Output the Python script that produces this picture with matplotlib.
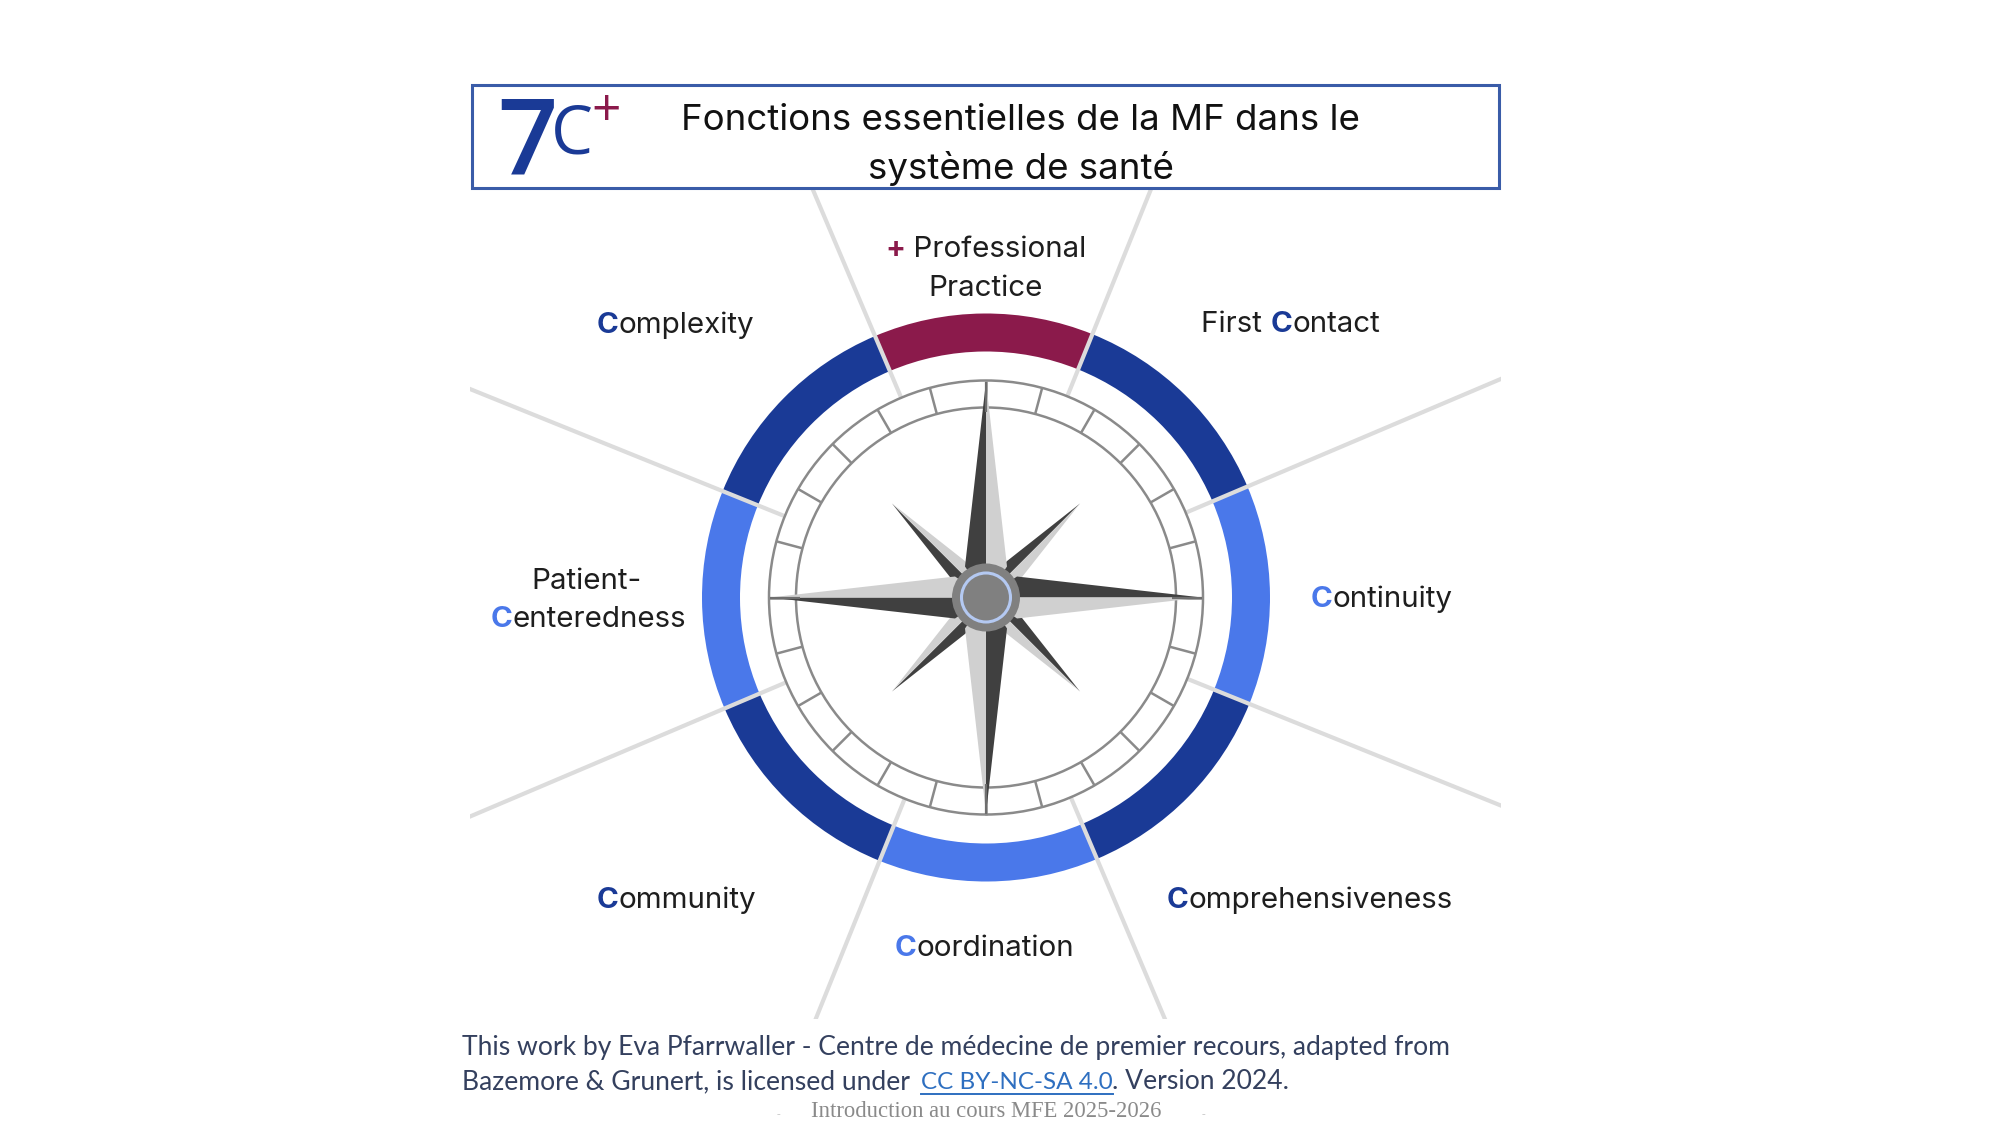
import numpy as np
import matplotlib
matplotlib.use("Agg")
import matplotlib.pyplot as plt
from matplotlib.patches import Wedge, Circle, Rectangle, Polygon

# ring segments, anticlockwise from the right-hand spoke, one colour per gap between spokes
spoke_angles = [23, 68, 113, 158, 203, 248, 293, 338]
segment_colors = ["#1A3A96", "#8B1A4B", "#1A3A96", "#4A78EA", "#1A3A96", "#4A78EA", "#1A3A96", "#4A78EA"]
tick_step = 15
star_main = [90, 0, -90, 180]
star_minor = [45, -45, -135, 135]

title_lines = ["Fonctions essentielles de la MF dans le", "système de santé"]
footer_1 = "This work by Eva Pfarrwaller - Centre de médecine de premier recours, adapted from"
footer_2a = "Bazemore & Grunert, is licensed under "
footer_2b = "CC BY-NC-SA 4.0"
footer_2c = ". Version 2024."
slide_footer = "Introduction au cours MFE 2025-2026"

DARK = "#1A3A96"
LIGHT = "#4A78EA"
RED = "#8B1A4B"
INK = "#1E1E1E"
LABEL_FONT = "Inter"

# label: list of (string, colour, bold), x, baseline y, anchor
labels = [
    ([("+", RED, True), (" Professional", INK, False)], 986, 257, "center"),
    ([("Practice", INK, False)], 986, 296, "center"),
    ([("C", DARK, True), ("omplexity", INK, False)], 597, 333, "left"),
    ([("First ", INK, False), ("C", DARK, True), ("ontact", INK, False)], 1201, 332, "left"),
    ([("C", LIGHT, True), ("ontinuity", INK, False)], 1311, 607, "left"),
    ([("C", DARK, True), ("omprehensiveness", INK, False)], 1167, 908, "left"),
    ([("C", LIGHT, True), ("oordination", INK, False)], 895, 956, "left"),
    ([("C", DARK, True), ("ommunity", INK, False)], 597, 908, "left"),
    ([("Patient-", INK, False)], 587, 589, "center"),
    ([("C", LIGHT, True), ("enteredness", INK, False)], 491, 627, "left"),
]

cx, cy = 986, 597.5

fig = plt.figure(figsize=(20, 11.25), dpi=100)
ax = fig.add_axes([0, 0, 1, 1])
ax.set_xlim(0, 2000)
ax.set_ylim(1125, 0)
ax.axis("off")
renderer = fig.canvas.get_renderer()


def pol(angle, r):
    a = np.radians(angle)
    return cx + r * np.cos(a), cy - r * np.sin(a)


def chain_text(parts, x, y, anchor, size):
    # several colours on one line, so measure each piece and place them in turn
    items = []
    total = 0
    for s, col, bold in parts:
        t = ax.text(x, y, s, color=col, fontsize=size, family=LABEL_FONT, va="baseline", ha="left",
                    fontweight="bold" if bold else "normal")
        w = t.get_window_extent(renderer).width
        items.append((t, w))
        total += w
    pos = x - total / 2 if anchor == "center" else x
    for t, w in items:
        t.set_x(pos)
        pos += w


# coloured ring
for i, col in enumerate(segment_colors):
    a0 = spoke_angles[i]
    a1 = spoke_angles[(i + 1) % len(spoke_angles)]
    if a1 < a0:
        a1 += 360
    ax.add_patch(Wedge((cx, cy), 284, -a1, -a0, width=38, fc=col, ec="none"))

# grey spokes, clipped to the drawing frame
clip = Rectangle((470, 187), 1031, 832, transform=ax.transData)
for ang in spoke_angles:
    x0, y0 = pol(ang, 217)
    x1, y1 = pol(ang, 700)
    ln, = ax.plot([x0, x1], [y0, y1], color="#DCDCDC", lw=3.0, solid_capstyle="butt", zorder=2)
    ln.set_clip_path(clip)

# dial
ring_col = "#8A8A8A"
ax.add_patch(Circle((cx, cy), 217, fc="white", ec=ring_col, lw=1.8, zorder=3))
ax.add_patch(Circle((cx, cy), 190, fc="white", ec=ring_col, lw=1.8, zorder=3))
for ang in np.arange(0, 360, tick_step):
    x0, y0 = pol(ang, 190)
    x1, y1 = pol(ang, 217)
    ax.plot([x0, x1], [y0, y1], color=ring_col, lw=1.8, zorder=3, solid_capstyle="butt")


def kite(angle, tip, base_along, base_perp):
    # one arm of the rose: dark on the anticlockwise side, light on the other
    def local(a, p):
        r = np.radians(angle)
        return (cx + a * np.cos(r) - p * np.sin(r), cy - (a * np.sin(r) + p * np.cos(r)))
    ax.add_patch(Polygon([local(tip, 0), local(base_along, base_perp), local(0, 0)], fc="#404040", ec="none", zorder=4))
    ax.add_patch(Polygon([local(tip, 0), local(base_along, -base_perp), local(0, 0)], fc="#D0D0D0", ec="none", zorder=4))


for ang in star_minor:
    kite(ang, 133, 40, 11)
for ang in star_main:
    kite(ang, 216, 31, 21)
    x0, y0 = pol(ang, 186)
    x1, y1 = pol(ang, 216)
    ax.plot([x0, x1], [y0, y1], color="#6E6E6E", lw=1.6, zorder=4, solid_capstyle="butt")

# hub
ax.add_patch(Circle((cx, cy), 34, fc="#808080", ec="none", zorder=5))
ax.add_patch(Circle((cx, cy), 24.5, fc="#808080", ec="#B4C9F2", lw=2.2, zorder=6))

# labels
for parts, x, y, anchor in labels:
    chain_text(parts, x, y, anchor, 21.3)

# title frame
ax.add_patch(Rectangle((472, 84.5), 1027, 103, fc="white", ec="#3A5CA8", lw=2.2, zorder=7))
ax.text(1020, 130, title_lines[0], fontsize=26.4, family=LABEL_FONT, color="#111111", ha="center", va="baseline", zorder=8)
ax.text(1021, 179, title_lines[1], fontsize=26.4, family=LABEL_FONT, color="#111111", ha="center", va="baseline", zorder=8)
ax.text(497, 175, "7", fontsize=76, family="Open Sans", fontweight="semibold", color=DARK, ha="left", va="baseline", zorder=8)
ax.text(551, 153, "C", fontsize=48, family="Open Sans", color=DARK, ha="left", va="baseline", zorder=8)
ax.text(591, 126, "+", fontsize=37, family="Open Sans", color=RED, ha="left", va="baseline", zorder=8)

# attribution
foot_col = "#34405E"
link_col = "#2E6FC0"
foot_size = 19.1
ax.text(462, 1055, footer_1, fontsize=foot_size, family="Lato", color=foot_col, va="baseline")
t1 = ax.text(462, 1089, footer_2a, fontsize=foot_size, family="Lato", color=foot_col, va="baseline")
x_link = 466 + t1.get_window_extent(renderer).width
t2 = ax.text(x_link, 1089, footer_2b, fontsize=17.5, family="Lato", color=link_col, va="baseline")
w2 = t2.get_window_extent(renderer).width
ax.plot([x_link, x_link + w2], [1094, 1094], color=link_col, lw=1.4)
ax.text(x_link + w2, 1089, footer_2c, fontsize=foot_size, family="Lato", color=foot_col, va="baseline")

ax.text(986, 1117, slide_footer, fontsize=16.3, family="Liberation Serif", color="#8A8A8A", ha="center", va="baseline")
ax.text(778, 1117, "-", fontsize=8, family="Liberation Serif", color="#C4C4C4", ha="center", va="baseline")
ax.text(1203, 1117, "-", fontsize=8, family="Liberation Serif", color="#C4C4C4", ha="center", va="baseline")

fig.savefig("out.png", dpi=100, facecolor="white")
